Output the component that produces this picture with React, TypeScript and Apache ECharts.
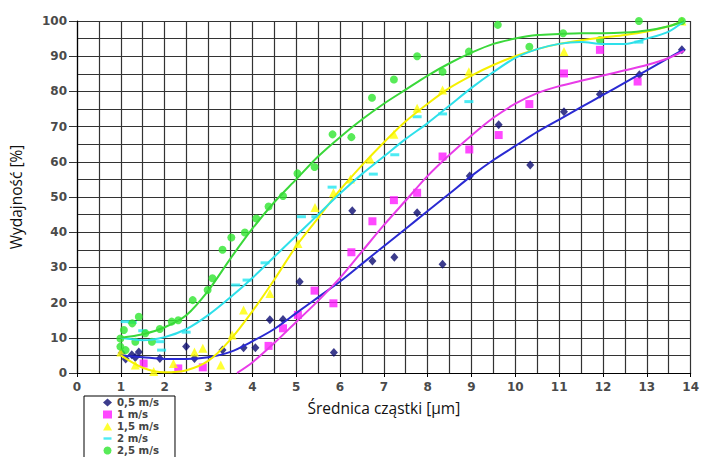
import React, { useEffect, useRef } from "react";
import * as echarts from "echarts";

// ---- data ----
const seriesNames = ["0,5 m/s", "1 m/s", "1,5 m/s", "2 m/s", "2,5 m/s"];

const pts05: [number, number][] = [
  [1.02, 5.7], [1.11, 4.0], [1.25, 5.2], [1.33, 4.4], [1.41, 6], [1.89, 4.1], [2.49, 7.5],
  [2.68, 4.1], [3.32, 6.5], [3.8, 7.2], [4.07, 7.2], [4.4, 15.1], [4.7, 15.2], [5.08, 25.9],
  [5.86, 5.8], [6.28, 46.1], [6.74, 31.8], [7.24, 32.9], [7.76, 45.5], [8.34, 30.9],
  [8.96, 56], [9.62, 70.5], [10.34, 59.1], [11.11, 74.2], [11.93, 79.2], [12.83, 84.7], [13.8, 91.8],
];
const pts1: [number, number][] = [
  [1.52, 2.7], [2.31, 1.3], [2.87, 1.6], [4.37, 7.7], [4.7, 12.7], [5.04, 16.5], [5.42, 23.4],
  [5.85, 19.8], [6.26, 34.3], [6.74, 43.1], [7.23, 49.1], [7.76, 51.2], [8.34, 61.5],
  [8.95, 63.5], [9.62, 67.6], [10.32, 76.4], [11.11, 85.1], [11.93, 91.8], [12.79, 82.8],
];
const pts15: [number, number][] = [
  [1.0, 6], [1.33, 2.3], [1.75, 0.4], [2.2, 2.7], [2.68, 6], [2.87, 7], [3.28, 2.3], [3.54, 10.8],
  [3.8, 17.9], [4.4, 22.6], [5.04, 36.8], [5.43, 47], [5.85, 51.2], [6.24, 55.1], [6.69, 60.7],
  [7.23, 67.8], [7.76, 75.2], [8.34, 80.4], [8.94, 85.6], [11.11, 91.3], [13.8, 100],
];
const pts2: [number, number][] = [
  [1.1, 14.6], [1.26, 14.4], [1.5, 12], [1.89, 8.9], [1.93, 6.5], [2.49, 11.6], [3.62, 25],
  [3.88, 26.4], [4.29, 31.3], [5.12, 44.4], [5.45, 44.4], [5.82, 52.8], [6.76, 56.5],
  [7.25, 62], [7.76, 72.8], [8.34, 73.6], [8.94, 77.1], [12.82, 94],
];
const pts25: [number, number][] = [
  [0.99, 7.5], [0.99, 9.8], [1.07, 12.2], [1.11, 6.5], [1.26, 14.1], [1.33, 8.9], [1.41, 16],
  [1.56, 11.3], [1.71, 8.9], [1.89, 12.5], [2.16, 14.6], [2.31, 15], [2.64, 20.7], [2.98, 23.6],
  [3.09, 26.9], [3.32, 35], [3.52, 38.5], [3.83, 39.9], [4.09, 43.9], [4.37, 47.3], [4.7, 50.3],
  [5.03, 56.7], [5.42, 58.5], [5.83, 67.8], [6.26, 67], [6.73, 78.2], [7.23, 83.4], [7.76, 90],
  [8.34, 85.6], [8.94, 91.3], [9.6, 98.9], [10.32, 92.7], [11.09, 96.5], [11.93, 94.6],
  [12.82, 100], [13.8, 100],
];

// trend lines
const trendX = [1, 1.5, 2, 2.5, 3, 3.5, 4, 4.5, 5, 5.5, 6, 6.5, 7, 7.5, 8, 8.5, 9, 9.5, 10, 10.5, 11, 11.5, 12, 12.5, 13, 13.5, 13.85];
const trend05 = [5, 4.5, 4, 4, 4.5, 6, 9, 12.5, 17, 21.5, 26, 31, 36, 41, 46, 51, 56, 60.5, 64.5, 68.5, 72, 75.5, 79, 82.5, 86, 89.5, 92];
const trend15 = [5, 1.5, 0.2, 0.8, 3.5, 9.5, 17.5, 26.5, 36, 44, 52, 59, 65.5, 71.5, 76.5, 81, 84.5, 87.5, 90, 92, 93.5, 94.5, 95.3, 96, 97, 98.5, 100];
const trend2 = [10, 9.3, 10.2, 12.5, 16.5, 21.5, 27, 33, 39, 45, 51, 56.5, 61.5, 66.5, 71, 76, 81, 85.5, 89.5, 92, 93.5, 94, 93.5, 93.5, 95, 97, 100];
const trend25 = [10, 11, 13, 16.5, 23.5, 32.5, 41, 48.5, 55, 61.5, 67, 72, 76.5, 80.5, 84.5, 88, 91, 93.5, 95, 96, 96.3, 96.5, 96.5, 96.7, 97.3, 98.5, 100];
const trend1X = [3.65, 4, 4.5, 5, 5.5, 6, 6.5, 7, 7.5, 8, 8.5, 9, 9.5, 10, 10.5, 11, 11.5, 12, 12.5, 13, 13.5, 13.85];
const trend1 = [0, 3, 8.5, 14.5, 20.5, 27, 34.5, 42, 49, 56, 62, 67.5, 72.5, 76.5, 79.5, 81.5, 83, 84.5, 86, 87.5, 89.5, 91.5];

const zip = (xs: number[], ys: number[]) => xs.map((x, i) => [x, ys[i]]);

const markerColors = ["#0b0b70", "#ff1aff", "#ffff00", "#22e6f0", "#2ee62e"];
const lineColors = ["#2a2ad2", "#e83ce8", "#f5f000", "#2ee0ea", "#3ad83a"];
const symbols = ["diamond", "rect", "triangle", "rect", "circle"];
const symbolSizes: any[] = [[8, 9], 8, 9, [9, 3], 8];
const legendIcons = ["diamond", "rect", "triangle", "path://M0,0M10,10M0,3.5H10V6.5H0Z", "circle"];

export default function App() {
  const ref = useRef<HTMLDivElement>(null);
  useEffect(() => {
    if (!ref.current) return;
    const chart = echarts.init(ref.current, undefined, { renderer: "svg" });
    const pointSets = [pts05, pts1, pts15, pts2, pts25];
    const trends = [
      zip(trendX, trend05),
      zip(trend1X, trend1),
      zip(trendX, trend15),
      zip(trendX, trend2),
      zip(trendX, trend25),
    ];
    const scatter = pointSets.map((d, i) => ({
      name: seriesNames[i],
      type: "scatter",
      data: d,
      symbol: symbols[i],
      symbolSize: symbolSizes[i],
      itemStyle: { color: markerColors[i] },
      z: 3,
    }));
    const lines = trends.map((d, i) => ({
      name: seriesNames[i],
      type: "line",
      data: d,
      smooth: 0.3,
      showSymbol: false,
      symbol: "none",
      lineStyle: { color: lineColors[i], width: 2 },
      itemStyle: { color: lineColors[i] },
      z: 4,
    }));
    const axisLabelStyle = {
      fontFamily: "DejaVu Sans",
      fontWeight: "bold" as const,
      fontSize: 12,
      color: "#4a4a4a",
    };
    const gridLine = { show: true, lineStyle: { color: "#333", width: 1.2 } };
    chart.setOption({
      animation: false,
      backgroundColor: "#fff",
      grid: { left: 75, right: 5, top: 21, bottom: 117, containLabel: false },
      xAxis: {
        type: "value",
        min: 0,
        max: 14,
        interval: 1,
        name: "Średnica cząstki [µm]",
        nameLocation: "middle",
        nameGap: 27,
        nameTextStyle: { fontFamily: "Open Sans", fontSize: 15.5, color: "#111" },
        axisLine: { show: true, lineStyle: { color: "#000", width: 1.2 } },
        axisTick: { show: true, inside: false, length: 4, lineStyle: { color: "#000" } },
        axisLabel: { ...axisLabelStyle, margin: 8 },
        splitLine: gridLine,
        minorTick: { show: false, splitNumber: 2 },
        minorSplitLine: gridLine,
      },
      yAxis: {
        type: "value",
        min: 0,
        max: 100,
        interval: 10,
        name: "Wydajność [%]",
        nameLocation: "middle",
        nameGap: 53,
        nameTextStyle: { fontFamily: "Open Sans", fontSize: 15.5, color: "#111" },
        axisLine: { show: true, lineStyle: { color: "#000", width: 1.2 } },
        axisTick: { show: true, inside: false, length: 8, lineStyle: { color: "#333" } },
        axisLabel: { ...axisLabelStyle, margin: 10 },
        splitLine: gridLine,
        minorTick: { show: false, splitNumber: 2 },
        minorSplitLine: gridLine,
      },
      legend: {
        orient: "vertical",
        left: 84,
        top: 396,
        padding: [0.5, 16, 6, 19],
        itemGap: 0,
        itemWidth: 9,
        itemHeight: 8,
        borderColor: "#000",
        borderWidth: 1,
        backgroundColor: "#fff",
        textStyle: {
          fontFamily: "DejaVu Sans",
          fontWeight: "bold",
          fontSize: 10.2,
          lineHeight: 12,
          color: "#444",
        },
        data: seriesNames.map((n, i) => ({ name: n, icon: legendIcons[i] })),
      },
      series: [...scatter, ...lines],
    });
    return () => chart.dispose();
  }, []);
  return (
    <div
      ref={ref}
      style={{ position: "fixed", left: 0, top: 0, width: 702, height: 490 }}
    />
  );
}
